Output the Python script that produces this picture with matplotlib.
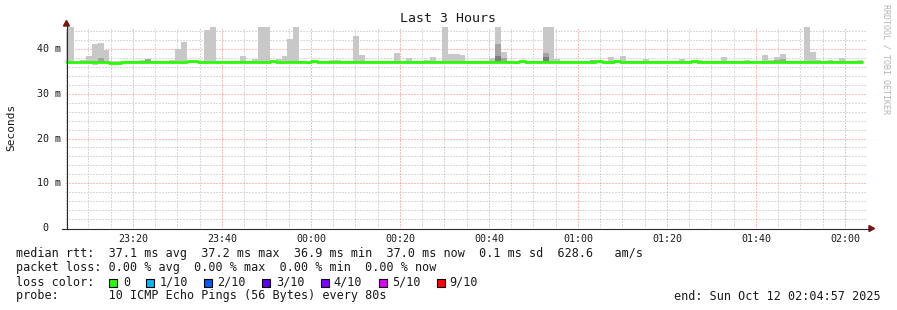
import matplotlib
matplotlib.use('Agg')
import matplotlib.pyplot as plt
import matplotlib.patches as mpatches
import matplotlib.transforms as mtrans
import numpy as np

W, H = 897, 310

# ---------------- data ----------------
step_s = 80
first_bar_start = -3357          # seconds from 00:00 (23:04:03)
view_start = -3303               # 23:04:57
view_end = 7497                  # 02:04:57

smoke_max_ms = [
    43.5, 44.9, 37.2, 37.6, 38.4, 41.1, 41.3, 39.8, 37.4, 37.3,
    37.4, 37.2, 37.2, 37.6, 37.8, 37.2, 37.2, 37.2, 37.6, 40.0,
    41.6, 37.4, 37.3, 37.2, 44.3, 44.9, 37.2, 37.2, 37.2, 37.4,
    38.4, 37.2, 37.7, 44.9, 44.9, 37.3, 37.7, 38.4, 42.2, 44.9,
    37.4, 37.2, 37.3, 37.2, 37.2, 37.6, 37.6, 37.2, 37.4, 42.9,
    38.7, 37.2, 37.2, 37.2, 37.4, 37.2, 39.1, 37.2, 38.0, 37.4,
    37.2, 37.6, 38.2, 37.2, 44.9, 38.9, 38.8, 38.6, 37.4, 37.3,
    37.3, 37.2, 38.0, 44.9, 39.3, 37.2, 37.2, 37.3, 37.2, 37.4,
    37.2, 44.9, 44.9, 37.7, 37.2, 37.2, 37.2, 37.2, 37.2, 37.6,
    37.3, 37.2, 38.2, 37.6, 38.4, 37.4, 37.2, 37.2, 37.8, 37.2,
    37.2, 37.4, 37.2, 37.2, 37.7, 37.2, 37.4, 37.5, 37.4, 37.2,
    37.4, 38.2, 37.4, 37.2, 37.2, 37.6, 37.3, 37.4, 38.7, 37.5,
    38.2, 38.9, 37.4, 37.2, 37.2, 44.9, 39.3, 37.5, 37.2, 37.5,
    37.2, 38.0, 37.2, 37.2, 37.5,
]

smoke_min_ms = [
    36.8, 36.8, 36.8, 36.8, 36.8, 36.5, 36.8, 36.8, 36.55, 36.55,
    36.8, 36.8, 36.8, 36.8, 36.8, 36.8, 36.8, 36.8, 36.8, 36.8,
    36.8, 36.8, 36.8, 36.8, 36.8, 36.8, 36.8, 36.8, 36.8, 36.8,
    36.8, 36.8, 36.8, 36.8, 36.8, 36.8, 36.8, 36.8, 36.8, 36.8,
    36.8, 36.8, 36.8, 36.8, 36.8, 36.8, 36.8, 36.8, 36.8, 36.8,
    36.8, 36.8, 36.8, 36.8, 36.8, 36.8, 36.8, 36.8, 36.8, 36.8,
    36.8, 36.8, 36.8, 36.8, 36.8, 36.8, 36.8, 36.8, 36.8, 36.8,
    36.8, 36.8, 36.8, 36.8, 36.8, 36.8, 36.8, 36.8, 36.8, 36.8,
    36.8, 36.8, 36.8, 36.8, 36.8, 36.8, 36.8, 36.8, 36.8, 36.8,
    36.8, 36.8, 36.8, 36.8, 36.8, 36.8, 36.8, 36.8, 36.8, 36.8,
    36.8, 36.8, 36.8, 36.8, 36.8, 36.8, 36.8, 36.8, 36.8, 36.8,
    36.8, 36.8, 36.8, 36.8, 36.8, 36.8, 36.8, 36.8, 36.8, 36.8,
    36.8, 36.8, 36.8, 36.8, 36.8, 36.8, 36.8, 36.8, 36.8, 36.8,
    36.8, 36.8, 36.8, 36.8, 36.8,
]

median_ms = [
    37.05, 37.05, 37.05, 37.05, 37.05, 37.05, 37.05, 37.05, 36.8, 36.8,
    37.05, 37.05, 37.05, 37.05, 37.05, 37.05, 37.05, 37.05, 37.05, 37.05,
    37.05, 37.25, 37.25, 37.05, 37.05, 37.05, 37.05, 37.05, 37.05, 37.05,
    37.05, 37.2, 37.2, 37.05, 37.05, 37.25, 37.2, 37.05, 37.05, 37.05,
    37.05, 37.05, 37.3, 37.05, 37.05, 37.05, 37.05, 37.05, 37.05, 37.05,
    37.05, 37.05, 37.05, 37.05, 37.05, 37.05, 37.05, 37.05, 37.05, 37.05,
    37.05, 37.05, 37.05, 37.05, 37.05, 37.05, 37.05, 37.05, 37.05, 37.05,
    37.05, 37.05, 37.05, 37.05, 37.05, 37.05, 37.05, 37.3, 37.05, 37.05,
    37.05, 37.05, 37.05, 37.05, 37.05, 37.05, 37.05, 37.05, 37.05, 37.05,
    37.3, 37.05, 37.05, 37.3, 37.05, 37.05, 37.05, 37.05, 37.05, 37.05,
    37.05, 37.05, 37.05, 37.05, 37.05, 37.05, 37.25, 37.05, 37.05, 37.05,
    37.05, 37.05, 37.05, 37.05, 37.05, 37.05, 37.05, 37.05, 37.05, 37.05,
    37.05, 37.05, 37.2, 37.05, 37.05, 37.2, 37.05, 37.05, 37.05, 37.05,
    37.05, 37.05, 37.05, 37.05, 37.05,
]

mid_idx = [6, 14, 33, 56, 73, 74, 79, 81, 89, 101, 120, 121]
mid_ms = [37.9, 37.7, 37.4, 37.4, 41.1, 37.9, 37.4, 39.1, 37.6, 37.4, 37.5, 37.7]
dark_idx = [73, 81]
dark_ms = [38.4, 38.2]

y_ticks_ms = [0, 10, 20, 30, 40]
y_tick_labels = ['0', '10 m', '20 m', '30 m', '40 m']
x_ticks_s = [-2400, -1200, 0, 1200, 2400, 3600, 4800, 6000, 7200]
x_tick_labels = ['23:20', '23:40', '00:00', '00:20', '00:40', '01:00', '01:20', '01:40', '02:00']

legend_row1 = "median rtt:  37.1 ms avg  37.2 ms max  36.9 ms min  37.0 ms now  0.1 ms sd  628.6   am/s"
legend_row2 = "packet loss: 0.00 % avg  0.00 % max  0.00 % min  0.00 % now"
loss_labels = ['0', '1/10', '2/10', '3/10', '4/10', '5/10', '9/10']
loss_colors = ['#26ff00', '#00b8ff', '#0059ff', '#5e00ff', '#7e00ff', '#dd00ff', '#ff0000']
probe_text = "probe:       10 ICMP Echo Pings (56 Bytes) every 80s"
end_text = "end: Sun Oct 12 02:04:57 2025"

# ---------------- figure ----------------
MONO = 'DejaVu Sans Mono'
TXT = '#1a1a1a'
fig = plt.figure(figsize=(W / 100, H / 100), dpi=100)
fig.patch.set_facecolor('white')

def fx(x):
    return x / W

def fy(y):
    return 1 - y / H

ax_l, ax_r, ax_t, ax_b = 66, 867, 27, 228
ax = fig.add_axes([fx(ax_l), fy(ax_b), (ax_r - ax_l) / W, (ax_b - ax_t) / H])
ax.set_facecolor('white')
ymax = (ax_b - ax_t) / 4.475 / 1000.0
ax.set_xlim(view_start, view_end)
ax.set_ylim(0, ymax)
for s in ax.spines.values():
    s.set_visible(False)
ax.set_xticks([])
ax.set_yticks([])

# grid (dotted lines)
minor_col = '#b4b4b4'
major_col = '#ff7a7a'
dot = (0, (1, 2))
gkw = dict(lw=0.72, ls=dot)
for t in range(-3300, 7500, 300):
    if t % 1200 == 0:
        continue
    ax.axvline(t, color=minor_col, zorder=1, **gkw)
for v in np.arange(2, 45, 2):
    if v % 10 == 0:
        continue
    ax.axhline(v / 1000.0, color=minor_col, zorder=1, **gkw)
for t in x_ticks_s:
    ax.axvline(t, color=major_col, zorder=1.1, **gkw)
for v in y_ticks_ms[1:]:
    ax.axhline(v / 1000.0, color=major_col, zorder=1.1, **gkw)

# smoke
n = len(smoke_max_ms)
lefts = np.array([first_bar_start + step_s * k for k in range(n)], dtype=float)
smax = np.array(smoke_max_ms) / 1000.0
smin = np.array(smoke_min_ms) / 1000.0
med = np.array(median_ms) / 1000.0
ax.bar(lefts, smax - smin, bottom=smin, width=step_s, align='edge',
       color='#c8c8c8', linewidth=0, zorder=2)
mid_vals = np.array(mid_ms) / 1000.0
ax.bar(lefts[mid_idx], mid_vals - smin[mid_idx], bottom=smin[mid_idx], width=step_s,
       align='edge', color='#a4a4a4', linewidth=0, zorder=2.1)
dark_vals = np.array(dark_ms) / 1000.0
ax.bar(lefts[dark_idx], dark_vals - smin[dark_idx], bottom=smin[dark_idx], width=step_s,
       align='edge', color='#7c7c7c', linewidth=0, zorder=2.2)

# median line
edges = np.append(lefts, lefts[-1] + step_s)
med_ext = np.append(med, med[-1])
ax.step(edges, med_ext, where='post', color='#26ff00', lw=2.0, zorder=3,
        solid_capstyle='butt')

# axes lines & arrows
axis_col = '#2a2a2a'
fig.add_artist(plt.Line2D([fx(66.5), fx(66.5)], [fy(229), fy(25)], color=axis_col, lw=0.8))
fig.add_artist(plt.Line2D([fx(62), fx(870)], [fy(228.5), fy(228.5)], color=axis_col, lw=0.8))
arrow_col = '#7f1010'
fig.add_artist(mpatches.Polygon([[fx(63.5), fy(26)], [fx(69.5), fy(26)], [fx(66.5), fy(20.5)]],
                                closed=True, color=arrow_col, transform=fig.transFigure))
fig.add_artist(mpatches.Polygon([[fx(869), fy(225.5)], [fx(869), fy(231.5)], [fx(874.5), fy(228.5)]],
                                closed=True, color=arrow_col, transform=fig.transFigure))

# tick labels
ytr = mtrans.blended_transform_factory(fig.transFigure, ax.transData)
for v, lab in zip(y_ticks_ms, y_tick_labels):
    xpos = 60.5 if v != 0 else 48.5
    ax.text(fx(xpos), v / 1000.0, lab, transform=ytr, ha='right', va='center',
            fontsize=7.2, family=MONO, color=TXT)
xtr = mtrans.blended_transform_factory(ax.transData, fig.transFigure)
for t, lab in zip(x_ticks_s, x_tick_labels):
    ax.text(t, fy(238.5), lab, transform=xtr, ha='center', va='center',
            fontsize=7.2, family=MONO, color=TXT, clip_on=False)

# title, ylabel, watermark
fig.text(fx(448), fy(19), 'Last 3 Hours', ha='center', va='center', fontsize=9.5,
         family=MONO, color=TXT)
fig.text(fx(11), fy(127), 'Seconds', ha='center', va='center', rotation=90,
         fontsize=8, family=MONO, color=TXT)
fig.text(fx(886), fy(59), 'RRDTOOL / TOBI OETIKER', ha='center', va='center', rotation=270,
         fontsize=6, family=MONO, color='#b4b4b4')

# legend
fs_leg = 8.5
fig.text(fx(16), fy(254), legend_row1, ha='left', va='center', fontsize=fs_leg, family=MONO, color=TXT)
fig.text(fx(16), fy(268), legend_row2, ha='left', va='center', fontsize=fs_leg, family=MONO, color=TXT)
fig.text(fx(16), fy(282), 'loss color:', ha='left', va='center', fontsize=fs_leg, family=MONO, color=TXT)
box_x = [108.5, 145.5, 204, 262, 320.5, 378.5, 436.5]
lab_x = [123.5, 160, 217.5, 276.5, 333.5, 392.5, 449.5]
for bx, lx, lab, col in zip(box_x, lab_x, loss_labels, loss_colors):
    fig.add_artist(mpatches.Rectangle((fx(bx), fy(286.5)), 8 / W, 8 / H, facecolor=col,
                                      edgecolor='black', lw=0.8, transform=fig.transFigure))
    fig.text(fx(lx), fy(282), lab, ha='left', va='center', fontsize=fs_leg, family=MONO, color=TXT)
fig.text(fx(16), fy(296), probe_text, ha='left', va='center', fontsize=fs_leg, family=MONO, color=TXT)
fig.text(fx(881), fy(296), end_text, ha='right', va='center', fontsize=fs_leg, family=MONO, color=TXT)

fig.savefig('out.png', dpi=100, facecolor='white')
